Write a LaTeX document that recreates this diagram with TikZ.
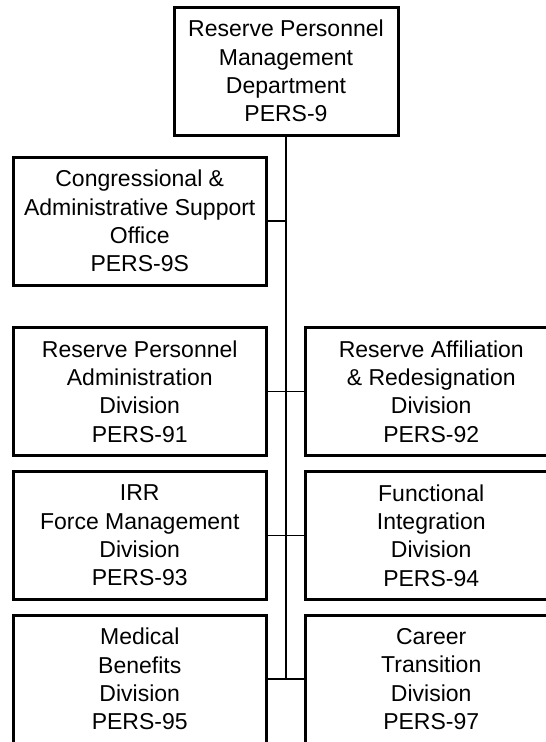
\documentclass[tikz,border=0pt]{standalone}
\usepackage{fontspec}
\setmainfont{Liberation Sans}
\begin{document}
\begin{tikzpicture}[x=1pt,y=-1pt,
  box/.style={draw,line width=3pt,minimum width=252.5pt,minimum height=128pt,
    inner sep=0pt,align=center,font=\fontsize{23}{28.3}\selectfont},
  link/.style={line width=1.4pt}]
\useasboundingbox (0,0) rectangle (546,742);
\clip (0,0) rectangle (546,742);
\node[box,minimum width=224pt] (top) at (286,71) {Reserve Personnel\\Management\\Department\\PERS-9};
\node[box] (s9) at (139.75,221) {Congressional \&\\Administrative Support\\Office\\PERS-9S};
\node[box] (p91) at (139.75,391.5) {Reserve Personnel\\Administration\\Division\\PERS-91};
\node[box] (p92) at (431.25,391.5) {Reserve Affiliation\\\& Redesignation\\Division\\PERS-92};
\node[box] (p93) at (139.75,535.5) {IRR\\Force Management\\Division\\PERS-93};
\node[box] (p94) at (431.25,535.5) {Functional\\Integration\\Division\\PERS-94};
\node[box] (p95) at (139.75,679) {Medical\\Benefits\\Division\\PERS-95};
\node[box] (p97) at (431.25,679) {Career\\Transition\\Division\\PERS-97};
\coordinate (spineend) at (top.south |- p95.east);
\draw[link] (top.south) -- (spineend);
\draw[link] (s9.east) -- (s9.east -| top.south);
\draw[link] (p91.east) -- (p92.west);
\draw[link] (p93.east) -- (p94.west);
\draw[link] (p95.east) -- (p97.west);
\end{tikzpicture}
\end{document}
